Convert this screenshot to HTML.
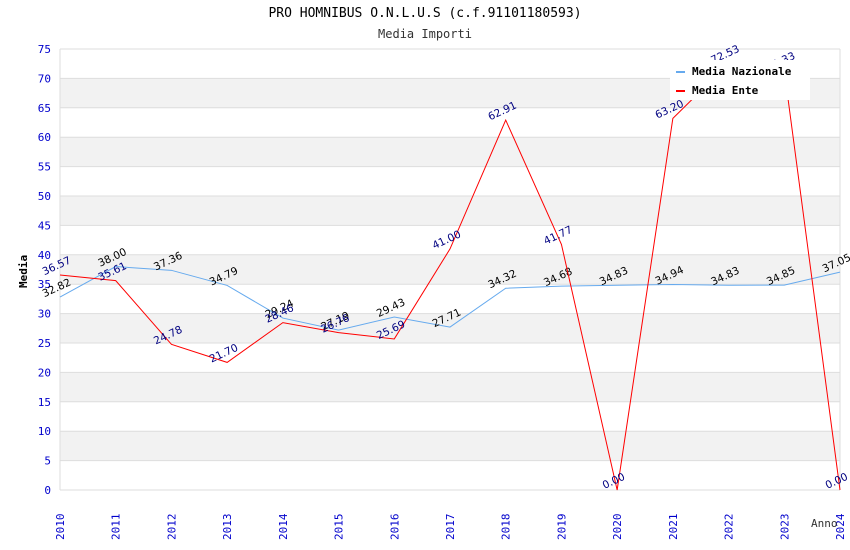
<!DOCTYPE html>
<html><head><meta charset="utf-8"><style>
body{margin:0;background:#fff;}
svg{display:block;font-family:"DejaVu Sans Mono","Liberation Mono",monospace;}
</style></head><body>
<svg id="c" width="850" height="550"></svg>
<script>
const years=[2010,2011,2012,2013,2014,2015,2016,2017,2018,2019,2020,2021,2022,2023,2024];
const nazionale=[32.82,38.00,37.36,34.79,29.24,27.19,29.43,27.71,34.32,34.68,34.83,34.94,34.83,34.85,37.05];
const ente=[36.57,35.61,24.78,21.70,28.46,26.76,25.69,41.00,62.91,41.77,0.00,63.20,72.53,71.33,0.00];
const yTicks=[0,5,10,15,20,25,30,35,40,45,50,55,60,65,70,75];
const NS="http://www.w3.org/2000/svg";
const svg=document.getElementById('c');
const X0=60,X1=840,Y0=490,Y1=49;
const xs=i=>X0+(X1-X0)*i/(years.length-1);
const ys=v=>Y0-(Y0-Y1)*v/75;
function mk(t,a,p){const e=document.createElementNS(NS,t);for(const k in a)e.setAttribute(k,a[k]);(p||svg).appendChild(e);return e;}
for(let v=0;v<75;v+=5){
 const r=mk('rect',{x:X0,y:ys(v+5),width:X1-X0,height:ys(v)-ys(v+5),fill:(v%10===5)?'#f2f2f2':'#fff'});
 
 
}
yTicks.forEach(v=>{
 const l=mk('line',{x1:X0,x2:X1,y1:ys(v),y2:ys(v),stroke:'#ddd','stroke-width':1});
 
 
 const t=mk('text',{x:X0-9,y:ys(v)+4,'text-anchor':'end','font-size':11,fill:'#0000cc'});
 t.textContent=v;
 
 
});
mk('line',{x1:X1,x2:X1,y1:Y1,y2:Y0,stroke:'#ddd'});
mk('line',{x1:X0,x2:X0,y1:Y1,y2:Y0,stroke:'#ddd'});
years.forEach((y,i)=>{
 const t=mk('text',{transform:`translate(${xs(i)+4},${Y0+50}) rotate(-90)`,'font-size':11,fill:'#0000cc'});
 t.textContent=y;
 
 
});
function series(vals,color,labColor,name){
 const p=mk('polyline',{points:vals.map((v,i)=>xs(i)+','+ys(v)).join(' '),fill:'none',stroke:color,'stroke-width':1});
 
 
 vals.forEach((v,i)=>{
  const t=mk('text',{transform:`translate(${xs(i)-2},${ys(v)-6}) rotate(-25)`,'text-anchor':'middle','font-size':10.5,fill:labColor,'font-family':'DejaVu Sans,sans-serif'});
  t.textContent=v.toFixed(2);
  
  
 });
}
series(nazionale,'#66aaee','#000','media-nazionale');
series(ente,'#ff0000','#000080','media-ente');
</script>
<div style="position:absolute;left:0;top:0;width:850px;height:550px;pointer-events:none;font-family:'DejaVu Sans Mono','Liberation Mono',monospace;">
 <div style="position:absolute;top:6px;width:850px;text-align:center;font-size:13px;color:#000;">PRO HOMNIBUS O.N.L.U.S (c.f.91101180593)</div>
 <div style="position:absolute;top:27px;width:850px;text-align:center;font-size:12px;color:#333;">Media Importi</div>
 <div style="position:absolute;left:17px;top:288px;transform:rotate(-90deg);transform-origin:left top;font-size:11px;font-weight:bold;">Media</div>
 <div style="position:absolute;left:811px;top:517px;font-size:11px;color:#333;">Anno</div>
 <div style="position:absolute;left:670px;top:60px;width:140px;height:40px;background:#fff;font-size:11px;font-weight:bold;">
  <div style="position:absolute;left:6px;top:5px;white-space:nowrap;"><span style="display:inline-block;width:9px;height:2px;background:#66aaee;vertical-align:middle;margin-right:7px;"></span>Media Nazionale</div>
  <div style="position:absolute;left:6px;top:24px;white-space:nowrap;"><span style="display:inline-block;width:9px;height:2px;background:#ff0000;vertical-align:middle;margin-right:7px;"></span>Media Ente</div>
 </div>
</div>
</body></html>
